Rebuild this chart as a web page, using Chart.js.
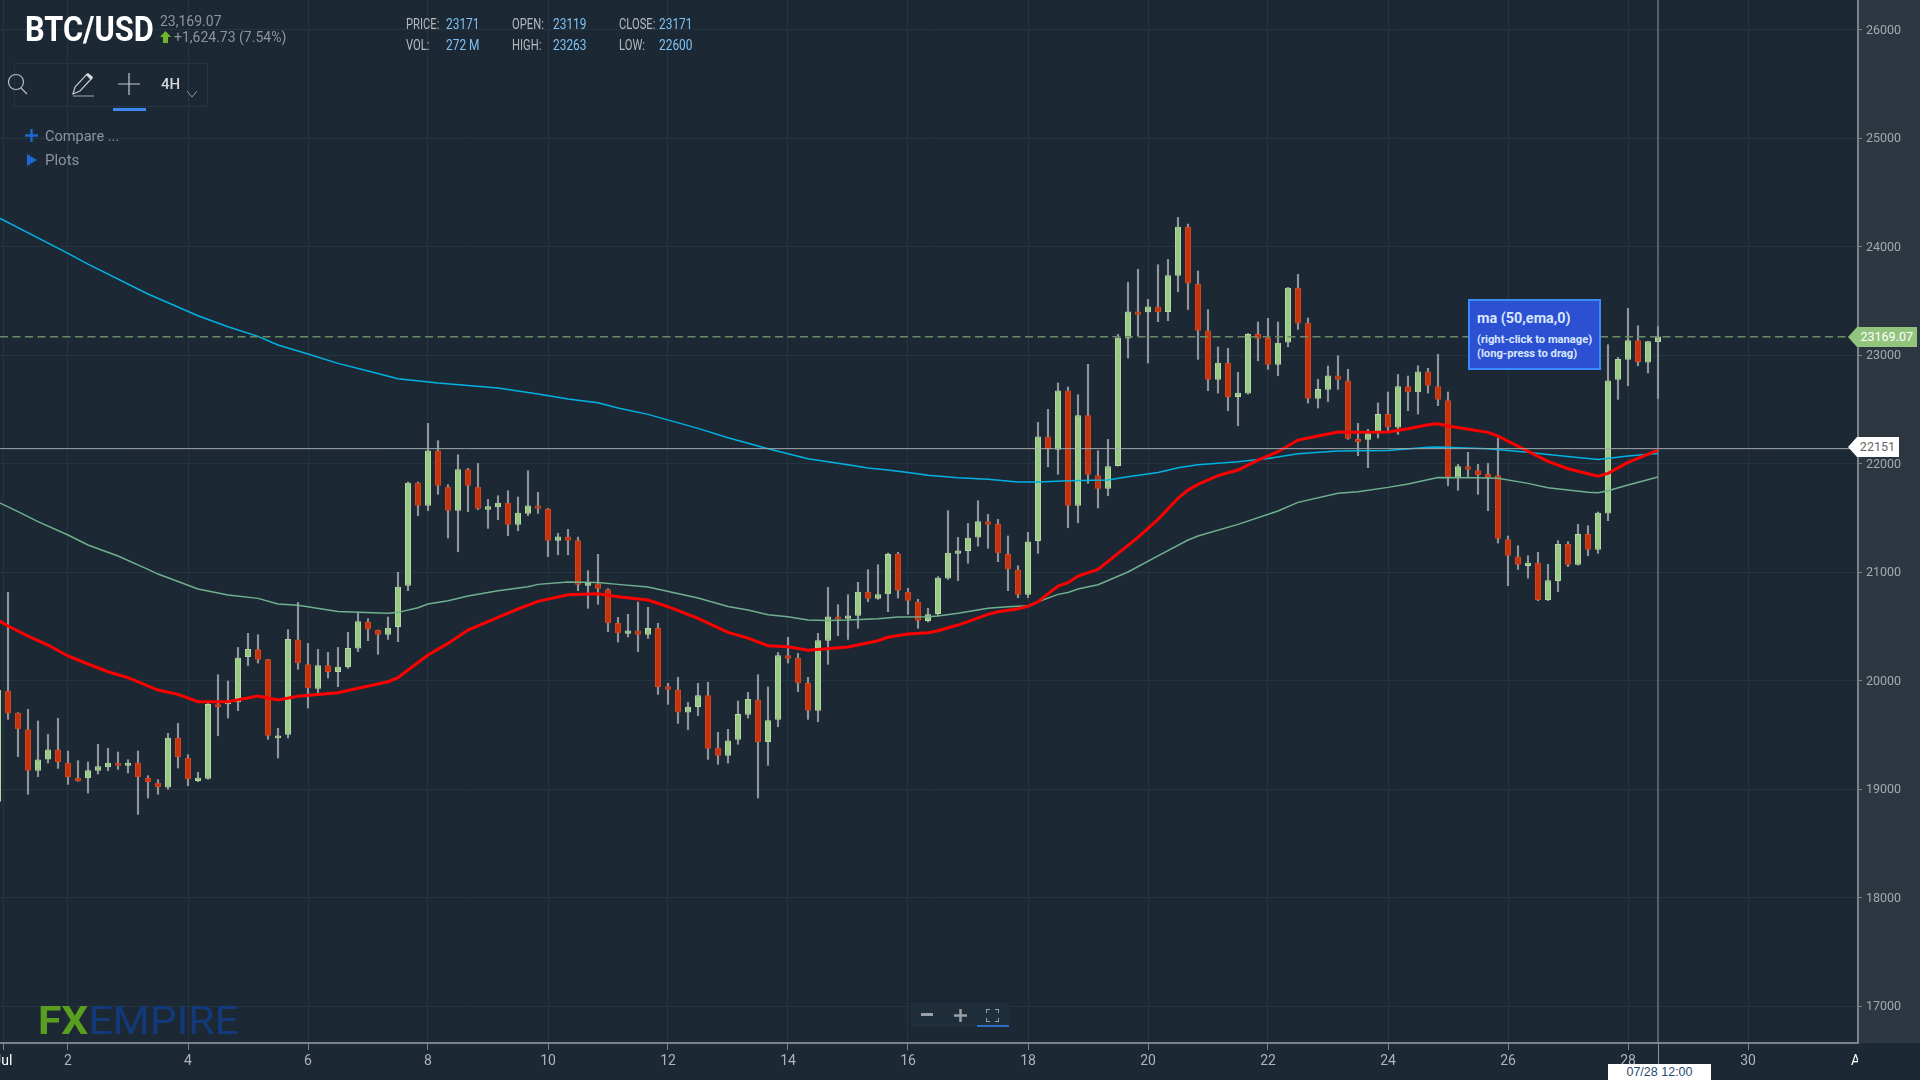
<!DOCTYPE html>
<html>
<head>
<meta charset="utf-8">
<title>BTC/USD</title>
<script src="https://cdn.jsdelivr.net/npm/chart.js@4/dist/chart.umd.min.js"></script>
<style>
    html, body { margin: 0; padding: 0; background: #1c2935; overflow: hidden; }
    body { width: 1920px; height: 1080px; position: relative; font-family: Roboto, sans-serif; }
    canvas { position: absolute; left: 0; top: 0; }
    .abs { position: absolute; white-space: nowrap; line-height: 1; }
    .panel { position: absolute; left: 1858px; top: 0; width: 62px; height: 1043px; background: #2c3741; }
    .lbl { color: #b4b9bd; font-size: 14px; transform: scaleX(0.8); transform-origin: left center; }
    .val { color: #7fc1f3; font-size: 14px; transform: scaleX(0.85); transform-origin: left center; }
    .tag { position: absolute; font-size: 12.5px; line-height: 20px; height: 20px; text-align: right; }
    .tip { position: absolute; left: 1468px; top: 299px; width: 129px; height: 67px; background: #2b50d2; border: 2px solid #3a8bff; color: #d9e6ff; font-weight: 700; }
</style>
</head>
<body>
<div class="panel"></div>
<canvas id="btcChart" width="1920" height="1080"></canvas>

<div class="abs" style="left:25px;top:12px;font-size:35px;font-weight:700;color:#fff;transform:scaleX(0.88);transform-origin:left center;">BTC/USD</div>
<div class="abs" style="left:160px;top:14px;font-size:14px;color:#8d959b;">23,169.07</div>
<svg class="abs" style="left:160px;top:31px;" width="11" height="12"><path d="M5.5 0 L11 6 L8 6 L8 12 L3 12 L3 6 L0 6 Z" fill="#6fb52c"/></svg>
<div class="abs" style="left:174px;top:30px;font-size:14px;color:#8d959b;">+1,624.73 (7.54%)</div>

<div class="abs lbl" style="left:406px;top:17px;">PRICE:</div><div class="abs val" style="left:446px;top:17px;">23171</div>
<div class="abs lbl" style="left:512px;top:17px;">OPEN:</div><div class="abs val" style="left:553px;top:17px;">23119</div>
<div class="abs lbl" style="left:619px;top:17px;">CLOSE:</div><div class="abs val" style="left:659px;top:17px;">23171</div>
<div class="abs lbl" style="left:406px;top:38px;">VOL:</div><div class="abs val" style="left:446px;top:38px;">272 M</div>
<div class="abs lbl" style="left:512px;top:38px;">HIGH:</div><div class="abs val" style="left:553px;top:38px;">23263</div>
<div class="abs lbl" style="left:619px;top:38px;">LOW:</div><div class="abs val" style="left:659px;top:38px;">22600</div>

<div class="abs" style="left:14px;top:63px;width:194px;height:44px;border:1px solid #263542;box-sizing:border-box;"></div>
<svg class="abs" style="left:5px;top:72px;" width="24" height="24"><circle cx="11" cy="10" r="7.5" fill="none" stroke="#b9bec2" stroke-width="1.2"/><path d="M16 16 L22 22" stroke="#b9bec2" stroke-width="1.2"/></svg>
<svg class="abs" style="left:70px;top:72px;" width="26" height="26"><path d="M3 22 L5 15 L17 2 L22 6 L10 19 Z" fill="none" stroke="#c4c8cb" stroke-width="1.2"/><path d="M16 3 L18 1 L23 5 L21 8 Z" fill="#d9dcde"/><path d="M3 24 L24 24" stroke="#8d959b" stroke-width="1.2"/></svg>
<svg class="abs" style="left:118px;top:73px;" width="22" height="22"><path d="M11 0 L11 22 M0 11 L22 11" stroke="#c4c8cb" stroke-width="1.2"/></svg>
<div class="abs" style="left:161px;top:77px;font-size:15px;font-weight:500;color:#d4d7d9;">4H</div>
<svg class="abs" style="left:186px;top:90px;" width="12" height="8"><path d="M1 1 L6 7 L11 1" fill="none" stroke="#8d959b" stroke-width="1"/></svg>
<div class="abs" style="left:113px;top:108px;width:33px;height:3px;background:#3a88f0;"></div>

<svg class="abs" style="left:25px;top:129px;" width="13" height="13"><path d="M6.5 0 L6.5 13 M0 6.5 L13 6.5" stroke="#1f66cf" stroke-width="2.4"/></svg>
<div class="abs" style="left:45px;top:129px;font-size:15px;color:#8d959b;transform:scaleX(0.97);transform-origin:left center;">Compare ...</div>
<svg class="abs" style="left:27px;top:154px;" width="10" height="12"><path d="M0 0 L10 6 L0 12 Z" fill="#1f66cf"/></svg>
<div class="abs" style="left:45px;top:153px;font-size:15px;color:#8d959b;">Plots</div>

<div class="tip">
    <div class="abs" style="left:7px;top:10px;font-size:15px;transform:scaleX(0.96);transform-origin:left center;">ma (50,ema,0)</div>
    <div class="abs" style="left:7px;top:33px;font-size:11.2px;">(right-click to manage)</div>
    <div class="abs" style="left:7px;top:47px;font-size:11.2px;">(long-press to drag)</div>
</div>

<div class="tag" style="left:1848px;top:327px;width:69px;background:#93c47d;color:#fff;clip-path:polygon(0 50%,9px 0,100% 0,100% 100%,9px 100%);"><span style="padding-right:4px;">23169.07</span></div>
<div class="tag" style="left:1848px;top:437px;width:51px;background:#fff;color:#666;clip-path:polygon(0 50%,9px 0,100% 0,100% 100%,9px 100%);"><span style="padding-right:4px;">22151</span></div>

<div class="abs" style="left:38px;top:1002px;font-size:38px;color:#123a7a;transform:scaleX(1.12);transform-origin:left center;"><span style="color:#5a9e1f;font-weight:700;">FX</span>EMPIRE</div>

<div class="abs" style="left:911px;top:1003px;width:98px;height:24px;background:#1f2e3b;"></div>
<div class="abs" style="left:921px;top:1008px;width:12px;height:3px;margin-top:5px;background:#9aa0a5;"></div>
<svg class="abs" style="left:954px;top:1009px;" width="13" height="13"><path d="M6.5 0 L6.5 13 M0 6.5 L13 6.5" stroke="#9aa0a5" stroke-width="2.5"/></svg>
<svg class="abs" style="left:986px;top:1009px;" width="13" height="13"><path d="M0 4 L0 0 L4 0 M9 0 L13 0 L13 4 M13 9 L13 13 L9 13 M4 13 L0 13 L0 9" fill="none" stroke="#9aa0a5" stroke-width="2"/></svg>
<div class="abs" style="left:977px;top:1025px;width:32px;height:2px;background:#2f6cc4;"></div>

<div class="abs" style="left:1851px;top:1053px;width:7px;overflow:hidden;font-size:14px;color:#fff;">A</div>
<div class="abs" style="left:1658px;top:1043px;width:1px;height:21px;background:#8d959b;"></div>
<div class="abs" style="left:1608px;top:1064px;width:103px;height:16px;line-height:16px;background:#fff;color:#2a4a72;font-family:'Liberation Sans',sans-serif;font-size:12.5px;text-align:center;">07/28 12:00</div>

<script>
// one candle per 4 hours, index 0 is Jul 1 00:00
const opens = [18883,
    19906, 19703, 19550, 19169, 19273, 19365, 19243, 19101, 19098, 19169,
    19200, 19243, 19215, 19243, 19101, 19058, 19015, 19470, 19286, 19074,
    19095, 19780, 19780, 19799, 20216, 20287, 20195, 19467, 19501, 20379,
    20149, 19925, 20140, 20078, 20124, 20296, 20542, 20465, 20422, 20493,
    20874, 21823, 21611, 22121, 21786, 21565, 21946, 21786, 21574, 21596,
    21639, 21436, 21537, 21614, 21580, 21289, 21328, 21292, 20874, 20895,
    20840, 20530, 20431, 20462, 20422, 20484, 19946, 19918, 19706, 19756,
    19863, 19381, 19307, 19455, 19685, 19826, 19433, 19639, 20232, 20210,
    19977, 19722, 20367, 20591, 20570, 20597, 20819, 20754, 20794, 21166,
    20819, 20726, 20548, 20613, 20941, 21169, 21193, 21319, 21467, 21442,
    21166, 21024, 20791, 21285, 22250, 22127, 22674, 21611, 22444, 21891,
    21768, 21977, 23153, 23402, 23393, 23448, 23396, 23731, 24182, 23654,
    23227, 22772, 22929, 22613, 22646, 23193, 23156, 22911, 23116, 23620,
    23298, 22597, 22680, 22812, 22766, 22225, 22219, 22278, 22456, 22333,
    22711, 22656, 22849, 22711, 22582, 21872, 21974, 21937, 21903, 21891,
    21301, 21144, 21055, 21086, 20742, 20917, 21258, 21067, 21350, 21206,
    21540, 22772, 22956, 23135, 22932, 23119];
const closes = [19912,
    19697, 19550, 19169, 19273, 19365, 19249, 19110, 19074, 19172, 19209,
    19243, 19215, 19243, 19110, 19064, 19018, 19473, 19295, 19089, 19104,
    19783, 19756, 19805, 20210, 20290, 20192, 19491, 19494, 20382, 20158,
    19928, 20140, 20078, 20127, 20299, 20545, 20471, 20422, 20487, 20865,
    21823, 21611, 22121, 21795, 21565, 21946, 21795, 21583, 21605, 21639,
    21436, 21547, 21614, 21583, 21289, 21328, 21289, 20883, 20901, 20846,
    20527, 20435, 20462, 20422, 20484, 19940, 19915, 19706, 19759, 19863,
    19372, 19307, 19448, 19691, 19829, 19433, 19633, 20232, 20201, 19974,
    19722, 20370, 20591, 20564, 20600, 20819, 20754, 20794, 21166, 20828,
    20736, 20551, 20610, 20948, 21178, 21199, 21316, 21467, 21436, 21172,
    21024, 20791, 21282, 22250, 22130, 22674, 21611, 22444, 21897, 21768,
    21974, 23159, 23402, 23371, 23448, 23393, 23734, 24182, 23660, 23224,
    22772, 22929, 22613, 22652, 23193, 23150, 22911, 23113, 23620, 23291,
    22597, 22686, 22812, 22772, 22229, 22198, 22278, 22456, 22333, 22711,
    22656, 22849, 22717, 22588, 21872, 21974, 21943, 21894, 21875, 21307,
    21150, 21067, 21086, 20742, 20923, 21258, 21067, 21350, 21206, 21547,
    22766, 22963, 23135, 22935, 23126, 23171];
const highs = [19960,
    20812, 19703, 19734, 19627, 19504, 19651, 19350, 19261, 19249, 19412,
    19375, 19341, 19270, 19350, 19123, 19086, 19513, 19605, 19316, 19154,
    19805, 20054, 19995, 20305, 20435, 20422, 20195, 19559, 20468, 20720,
    20342, 20287, 20259, 20305, 20444, 20628, 20570, 20465, 20585, 20997,
    21830, 21829, 22370, 22210, 21805, 22081, 21955, 22001, 21669, 21703,
    21749, 21691, 21934, 21734, 21586, 21356, 21393, 21322, 21012, 21163,
    20846, 20582, 20610, 20723, 20674, 20527, 19974, 20029, 19799, 19974,
    19983, 19522, 19550, 19811, 19891, 20054, 19940, 20259, 20398, 20250,
    20029, 20435, 20858, 20699, 20791, 20905, 21021, 21067, 21175, 21181,
    20849, 20748, 20665, 20957, 21565, 21319, 21448, 21657, 21531, 21485,
    21332, 21058, 21365, 22379, 22499, 22742, 22705, 22634, 22914, 22118,
    22222, 23190, 23669, 23789, 23513, 23832, 23881, 24268, 24207, 23774,
    23417, 23073, 23061, 22840, 23199, 23304, 23338, 23304, 23623, 23743,
    23341, 22775, 22898, 22993, 22868, 22370, 22315, 22557, 22659, 22821,
    22806, 22901, 22877, 23006, 22659, 21992, 22103, 21992, 22001, 22232,
    21332, 21242, 21150, 21181, 21070, 21289, 21279, 21439, 21427, 21553,
    23095, 22978, 23430, 23270, 23126, 23263];
const lows = [18850,
    19642, 19298, 18951, 19114, 19239, 19190, 19043, 19071, 18963, 19138,
    19169, 19181, 19147, 18766, 18917, 18951, 18997, 19193, 19031, 19067,
    19089, 19491, 19654, 19722, 20137, 20161, 19458, 19286, 19470, 20103,
    19746, 19863, 20023, 19943, 20112, 20266, 20367, 20241, 20379, 20358,
    20828, 21519, 21565, 21716, 21313, 21187, 21556, 21574, 21402, 21482,
    21335, 21381, 21519, 21540, 21141, 21159, 21159, 20828, 20665, 20702,
    20450, 20355, 20401, 20266, 20388, 19872, 19780, 19605, 19547, 19676,
    19273, 19227, 19239, 19412, 19654, 18917, 19218, 19574, 20161, 19897,
    19642, 19620, 20149, 20413, 20379, 20481, 20726, 20748, 20634, 20760,
    20610, 20481, 20539, 20597, 20932, 20920, 21080, 21239, 21218, 21095,
    20828, 20763, 20763, 21172, 21970, 21900, 21408, 21454, 21817, 21590,
    21703, 21977, 22972, 23175, 22926, 23307, 23316, 23583, 23420, 22960,
    22671, 22649, 22487, 22348, 22640, 22947, 22868, 22809, 23076, 23236,
    22557, 22511, 22570, 22683, 22223, 22072, 21961, 22235, 22302, 22268,
    22487, 22456, 22649, 22533, 21795, 21752, 21875, 21716, 21565, 21267,
    20874, 21024, 20944, 20736, 20736, 20819, 21049, 21064, 21150, 21172,
    21473, 22591, 22717, 22901, 22834, 22600];

// moving averages, read at the candle indexes where the line bends
const ema50X = [-1, 0, 2, 4, 6, 8, 10, 12, 15, 17, 19, 22, 25, 27, 29, 33, 35, 38, 39, 40, 42, 44, 46, 49, 51, 53, 56, 59, 61, 64, 66, 69, 72, 74, 76, 78, 80, 84, 87, 88, 90, 92, 93, 95, 96, 98, 99, 101, 102, 103, 105, 106, 107, 109, 113, 115, 117, 118, 119, 121, 123, 125, 127, 129, 131, 133, 135, 138, 140, 142, 143, 144, 148, 149, 154, 156, 159, 160, 162, 165];
const ema50 = [20557, 20502, 20410, 20327, 20226, 20152, 20081, 20026, 19912, 19872, 19805, 19805, 19857, 19820, 19854, 19888, 19928, 19989, 20026, 20097, 20235, 20342, 20465, 20582, 20659, 20729, 20791, 20800, 20772, 20742, 20680, 20573, 20444, 20391, 20321, 20312, 20278, 20309, 20367, 20398, 20428, 20441, 20459, 20511, 20542, 20610, 20634, 20662, 20683, 20726, 20871, 20901, 20963, 21024, 21319, 21485, 21679, 21755, 21808, 21888, 21940, 22032, 22109, 22216, 22253, 22290, 22287, 22290, 22321, 22358, 22367, 22345, 22287, 22253, 22020, 21952, 21884, 21909, 22010, 22124];
const ema100X = [-1, 1, 3, 6, 8, 11, 14, 15, 19, 22, 25, 27, 29, 33, 38, 39, 41, 42, 44, 46, 49, 52, 53, 56, 59, 61, 64, 69, 72, 74, 76, 78, 80, 82, 84, 87, 89, 92, 93, 95, 98, 100, 102, 103, 105, 106, 107, 109, 112, 115, 118, 119, 123, 127, 129, 133, 135, 138, 140, 143, 147, 149, 152, 154, 158, 159, 160, 162, 165];
const ema100 = [21645, 21556, 21464, 21341, 21249, 21147, 21024, 20981, 20843, 20788, 20757, 20705, 20693, 20637, 20619, 20628, 20671, 20705, 20736, 20779, 20828, 20865, 20886, 20908, 20904, 20886, 20862, 20760, 20683, 20650, 20607, 20588, 20557, 20554, 20557, 20570, 20585, 20588, 20594, 20619, 20665, 20680, 20689, 20726, 20794, 20812, 20843, 20883, 21000, 21148, 21295, 21332, 21439, 21562, 21642, 21725, 21740, 21780, 21811, 21872, 21869, 21863, 21817, 21777, 21734, 21731, 21749, 21802, 21875];
const ema200X = [-1, 6, 8, 14, 19, 22, 25, 27, 30, 33, 36, 39, 43, 49, 53, 56, 59, 61, 64, 69, 72, 76, 80, 84, 86, 88, 90, 92, 95, 98, 101, 103, 106, 110, 112, 115, 117, 119, 123, 126, 129, 133, 138, 142, 143, 148, 152, 154, 159, 162, 165];
const ema200 = [24268, 23937, 23838, 23562, 23362, 23261, 23172, 23092, 23009, 22923, 22852, 22782, 22742, 22696, 22641, 22595, 22560, 22511, 22453, 22324, 22238, 22136, 22044, 21989, 21958, 21940, 21918, 21891, 21869, 21854, 21829, 21829, 21841, 21848, 21878, 21918, 21961, 21989, 22017, 22047, 22090, 22115, 22121, 22149, 22152, 22136, 22103, 22084, 22038, 22069, 22093];

const xTickValues = [-0.5, 6, 18, 30, 42, 54, 66, 78, 90, 102, 114, 126, 138, 150, 162, 174];
const xTickLabels = ["Jul", "2", "4", "6", "8", "10", "12", "14", "16", "18", "20", "22", "24", "26", "28", "30"];
const yTickValues = [17000, 18000, 19000, 20000, 21000, 22000, 23000, 24000, 25000, 26000];
const lastPrice = 23169.07;
const cursorPrice = 22137; // where the crosshair line sits in the picture
const cursorCandle = 165;

const xMin = -0.8, xMax = 185;
const yMin = 16659, yMax = 26272;

const candleX = opens.map((_, i) => i - 1);
const isUp = opens.map((o, i) => closes[i] >= o);

const lineSet = (xs, ys, color, width, order, dash) => ({
    type: "line",
    data: xs.map((x, i) => ({ x: x, y: ys[i] })),
    borderColor: color,
    borderWidth: width,
    borderDash: dash || [],
    pointRadius: 0,
    tension: 0,
    order: order,
});

const ctx = document.getElementById("btcChart").getContext("2d");
new Chart(ctx, {
    data: {
        datasets: [
            {
                type: "bar",
                data: candleX.map((x, i) => ({ x: x, y: [lows[i], highs[i]] })),
                backgroundColor: "#8f9599",
                barThickness: 1.5,
                grouped: false,
                order: 9,
            },
            {
                type: "bar",
                data: candleX.map((x, i) => ({ x: x, y: [opens[i], closes[i]] })),
                backgroundColor: isUp.map((up) => (up ? "#98c884" : "#c6320c")),
                borderColor: isUp.map((up) => (up ? "#b4d8a4" : "#d9431a")),
                borderWidth: 1,
                borderSkipped: false,
                inflateAmount: 0,
                barThickness: 6,
                grouped: false,
                order: 8,
            },
            lineSet(ema100X, ema100, "#6fb08e", 1.5, 7),
            lineSet(ema200X, ema200, "#00b2e2", 1.5, 6),
            lineSet(ema50X, ema50, "#ff0000", 3, 5),
            lineSet([xMin, xMax], [lastPrice, lastPrice], "#6a8a62", 1.5, 4, [8, 4.5]),
            lineSet([xMin, xMax], [cursorPrice, cursorPrice], "#a2a7ab", 1, 3),
            lineSet([cursorCandle, cursorCandle], [yMin, yMax], "#8d959b", 1, 2),
        ],
    },
    options: {
        responsive: false,
        animation: false,
        events: [],
        layout: { padding: 0 },
        plugins: { legend: { display: false }, tooltip: { enabled: false } },
        scales: {
            x: {
                type: "linear",
                min: xMin,
                max: xMax,
                offset: false,
                afterBuildTicks: (axis) => {
                    axis.ticks = xTickValues.map((v) => ({ value: v }));
                },
                afterFit: (axis) => {
                    axis.height = 37;
                    axis.paddingLeft = 0;
                    axis.paddingRight = 0;
                },
                ticks: {
                    autoSkip: false,
                    maxRotation: 0,
                    padding: 3,
                    color: (c) => (c.index === 0 ? "#ffffff" : "#aeb3b7"),
                    font: { family: "Roboto", size: 14 },
                    callback: (value, index) => xTickLabels[index],
                },
                grid: { offset: false, color: "#243440", tickColor: "#7b8288", tickLength: 7 },
                border: { color: "#7b8288", width: 2 },
            },
            y: {
                position: "right",
                min: yMin,
                max: yMax,
                afterBuildTicks: (axis) => {
                    axis.ticks = yTickValues.map((v) => ({ value: v }));
                },
                afterFit: (axis) => {
                    axis.width = 62;
                    axis.paddingTop = 0;
                    axis.paddingBottom = 0;
                },
                ticks: {
                    autoSkip: false,
                    padding: 4,
                    labelOffset: 1,
                    color: "#a4a9ad",
                    font: { family: "Roboto", size: 12.5 },
                    callback: (value) => String(value),
                },
                grid: { color: "#243440", tickColor: "#7b8288", tickLength: 4 },
                border: { color: "#7b8288", width: 2 },
            },
        },
    },
});
</script>
</body>
</html>
